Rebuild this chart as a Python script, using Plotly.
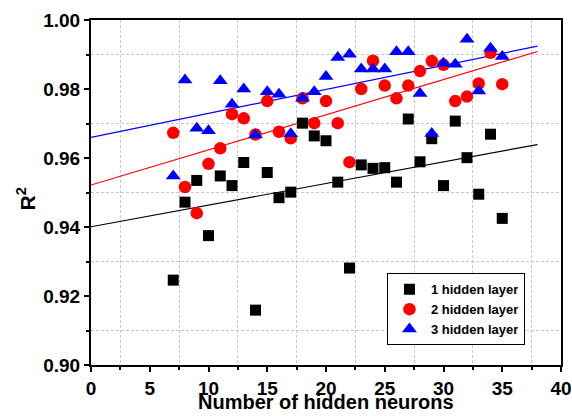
import numpy as np
import plotly.graph_objects as go

neurons = list(range(7, 36))
r2_1layer = [0.9246, 0.9472, 0.9535, 0.9375, 0.9548, 0.9520, 0.9587, 0.9159, 0.9558, 0.9485,
             0.9501, 0.9701, 0.9664, 0.9650, 0.9530, 0.9281, 0.9580, 0.9570, 0.9572, 0.9530,
             0.9713, 0.9589, 0.9656, 0.9520, 0.9707, 0.9601, 0.9495, 0.9669, 0.9425]
r2_2layer = [0.9673, 0.9516, 0.9440, 0.9583, 0.9628, 0.9727, 0.9715, 0.9668, 0.9765, 0.9676,
             0.9657, 0.9773, 0.9701, 0.9765, 0.9701, 0.9588, 0.9800, 0.9882, 0.9810, 0.9773,
             0.9810, 0.9852, 0.9881, 0.9870, 0.9765, 0.9778, 0.9816, 0.9905, 0.9814]
r2_3layer = [0.9548, 0.9826, 0.9686, 0.9679, 0.9824, 0.9756, 0.9800, 0.9667, 0.9792, 0.9785,
             0.9670, 0.9773, 0.9792, 0.9836, 0.9891, 0.9901, 0.9858, 0.9858, 0.9858, 0.9908,
             0.9908, 0.9787, 0.9671, 0.9875, 0.9872, 0.9944, 0.9794, 0.9918, 0.9894]
series_names = ["1 hidden layer", "2 hidden layer", "3 hidden layer"]
fit_x_span = [0, 38]
x_title = "Number of hidden neurons"
y_title = "R<sup>2</sup>"

colors = ["#000000", "#FF0000", "#0000FF"]
symbols = ["square", "circle", "triangle-up"]
sizes = [11, 12.5, 13]

fig = go.Figure()
xs = np.array(neurons, dtype=float)
for ys, c in zip([r2_1layer, r2_2layer, r2_3layer], colors):
    slope, icpt = np.polyfit(xs, np.array(ys), 1)
    fx = np.array(fit_x_span, dtype=float)
    fig.add_trace(go.Scatter(x=fx, y=icpt + slope * fx, mode="lines",
                             line=dict(color=c, width=1.2), showlegend=False, hoverinfo="skip"))
for ys, name, c, s, sz in zip([r2_1layer, r2_2layer, r2_3layer], series_names, colors, symbols, sizes):
    fig.add_trace(go.Scatter(x=neurons, y=ys, mode="markers", name=name,
                             marker=dict(color=c, symbol=s, size=sz, line=dict(width=0))))

axis_common = dict(showline=True, linecolor="black", linewidth=2, mirror=True,
                   ticks="outside", ticklen=5, tickwidth=1.5, tickcolor="black",
                   showgrid=False, zeroline=False, automargin=False,
                   tickfont=dict(size=19, color="black", family="Liberation Sans, Arial", weight="bold"))

fig.update_layout(
    width=572, height=416,
    margin=dict(l=91, r=11, t=20, b=51),
    paper_bgcolor="white", plot_bgcolor="white",
    font=dict(family="Liberation Sans, Arial", color="black", weight="bold"),
    xaxis=dict(range=[0, 40], tick0=0, dtick=5,
               minor=dict(dtick=2.5, ticks="outside", ticklen=3, tickcolor="black",
                          showgrid=True, gridcolor="#c8c8c8", griddash="3px,2px", gridwidth=1),
               **axis_common),
    yaxis=dict(range=[0.90, 1.00], tick0=0.9, dtick=0.02, tickformat=".2f",
               minor=dict(dtick=0.01, ticks="outside", ticklen=3, tickcolor="black",
                          showgrid=True, gridcolor="#c8c8c8", griddash="3px,2px", gridwidth=1),
               **axis_common),
    legend=dict(x=0.9233, y=0.057, xanchor="right", yanchor="bottom",
                bgcolor="white", bordercolor="black", borderwidth=1,
                font=dict(size=13, color="black", weight="bold"),
                tracegroupgap=0, itemwidth=33),
    showlegend=True,
    annotations=[
        dict(text=x_title, xref="paper", yref="paper", x=0.5, y=-0.107,
             xanchor="center", yanchor="middle", showarrow=False,
             font=dict(size=20, color="black", weight="bold")),
        dict(text=y_title, xref="paper", yref="paper", x=-0.138, y=0.48,
             xanchor="center", yanchor="middle", showarrow=False, textangle=-90,
             font=dict(size=21, color="black", weight="bold")),
    ],
)

fig.write_html("out.html")
